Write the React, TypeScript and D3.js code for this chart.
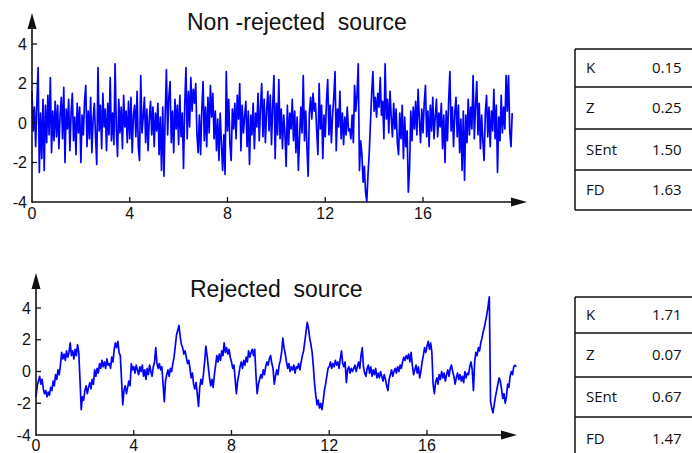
import React, { useEffect, useRef } from "react";
import * as d3 from "d3";

// sampling step (seconds) of both traces
const dt = 0.05;

// non-rejected source, one row per second
const nonRejected: number[] = [
  1.6, -0.4, 0.8, -1.2, 1.0, 2.8, -2.5, 0.5, -1.8, 1.2, -2.4, 0.9, -1.0, 1.4, -0.6, 2.3, -1.5, 0.6, -0.9, 1.1,
  -0.7, 0.9, -1.3, 0.4, 1.3, -0.8, 1.8, -2.0, 0.7, -0.3, 1.2, -1.4, 0.5, 1.5, -0.9, 0.3, -1.6, 1.0, -0.5, 0.8,
  -2.0, 0.4, -0.6, 1.1, 1.9, -1.2, 0.6, -0.8, 1.3, -1.5, 0.2, 1.0, -0.7, -2.1, 2.8, -0.4, 0.9, -1.3, 1.5, -0.2,
  0.7, -1.4, 1.0, -0.6, 2.3, -0.9, 0.5, -1.1, 3.0, -0.3, -1.7, 1.2, -0.5, 0.8, -1.3, 1.4, -0.2, 0.6, -1.0, 1.1,
  -0.8, 1.3, -1.5, 0.4, 0.9, -0.7, 1.6, -1.2, -1.9, 2.4, -0.5, 0.3, 1.3, -1.0, 0.7, -1.4, 0.2, 1.1, -0.6, 0.8,
  -1.2, 0.5, -0.4, 1.0, -1.6, 0.3, -2.4, 0.8, -2.7, 0.4, 2.7, -0.6, 1.3, 2.1, -1.0, 0.6, -1.5, 1.2, -0.3, 0.9,
  -1.1, 1.4, -0.7, 0.5, -2.3, 0.9, 2.8, -0.8, 1.6, -0.2, 2.3, 0.6, 1.7, 1.0, 2.0, -0.6, -1.5, 0.4, -1.6, 0.7,
  2.1, -0.9, 0.8, -1.2, 1.3, -0.5, 1.9, 0.3, 1.5, -0.8, 0.6, -1.4, 0.2, -1.9, 0.5, -1.0, -2.4, -0.6, -2.6, 2.6,
  -0.4, 1.2, -1.1, -1.9, 0.7, -0.3, 1.0, -0.8, 1.4, 0.2, 2.0, -1.4, 0.9, -0.5, 0.3, 1.1, -1.2, 0.6, -2.1, 0.4,
  -0.6, 1.0, -1.3, 0.5, -0.2, 1.5, -0.9, 0.8, 2.0, -0.7, 1.2, -1.0, 0.6, 1.6, -0.4, 1.4, -1.1, 0.9, 2.4, -1.8,
  1.0, -0.6, 2.2, -0.8, 0.7, -1.3, 0.4, -0.5, -2.2, 0.9, -1.1, 0.5, -0.3, 1.2, -0.9, 0.6, -1.5, 0.3, -2.4, -0.7,
  0.8, -0.5, 2.4, -0.9, 0.6, -1.2, -2.7, 0.5, 1.3, 0.2, 1.5, 0.6, 1.0, -0.4, -1.6, 2.0, -0.3, 0.9, -1.8, 0.4,
  -0.7, 1.1, 2.2, -0.6, 0.9, -1.0, 0.4, 1.3, 2.6, -1.4, 0.7, -0.2, 1.6, -0.8, 0.5, -1.1, 0.3, -0.6, 0.8, -0.4,
  -0.3, -0.8, 0.4, -1.0, 1.9, 0.6, 1.4, 3.0, -2.4, -0.9, -1.6, -3.0, -2.2, -3.5, -4.0, -2.6, -1.5, 0.0, 1.5, 2.6,
  0.6, 1.3, 0.3, 1.5, 0.8, 2.3, 0.4, 1.1, -0.8, 3.0, 0.2, 1.2, -0.5, 1.6, 0.3, -0.7, 1.0, -0.3, 0.7, -1.0,
  -1.6, 0.5, -0.8, 0.9, -1.8, 0.3, -1.2, -0.4, -3.5, -2.3, 0.6, -0.9, 0.8, -0.3, 1.1, -0.6, 1.7, 0.2, -1.0, 0.7,
  -0.5, 1.0, 1.9, -0.7, 0.6, -1.2, 0.9, -0.4, 1.3, -0.8, 0.3, 1.2, -0.7, 0.5, -0.2, 1.0, -1.3, 0.4, -2.0, 0.6,
  -0.9, 1.1, 2.6, -0.4, 0.8, -1.2, 0.5, 1.3, -0.7, 0.9, -1.5, 0.2, -2.4, 0.6, -2.9, 0.4, -1.0, 1.2, -0.6, 0.8,
  -0.3, 2.4, -0.8, 0.9, 2.1, -0.6, 1.0, -1.3, 0.4, -0.9, -1.9, 0.5, 1.4, -0.7, 0.8, -1.2, 0.6, -0.4, 1.7, -0.8,
  0.9, -2.5, 0.3, -0.9, 1.4, -0.5, 0.8, -0.3, 2.4, 0.6, 2.4, -0.4, -1.2, 0.5,
];

// rejected source, one row per second
const rejected: number[] = [
  -1.6, -0.9, -0.6, -0.3, -0.8, -0.5, -1.1, -1.4, -1.2, -1.6, -1.3, -1.5, -1.0, -1.2, -0.6, -0.9, -0.2, -0.5, 0.1, -0.2,
  0.4, 1.2, 0.8, 1.1, 0.7, 1.3, 0.9, 1.2, 1.8, 1.0, 1.3, 0.8, 1.4, 1.0, 1.7, 1.2, -0.5, -2.4, -1.6, -1.8,
  -1.2, -0.9, -1.4, -1.0, -0.7, -1.1, -0.5, -0.8, 0.1, -0.3, 0.2, -0.1, 0.5, 0.2, 0.7, 0.3, 0.6, 0.2, 0.8, 0.4,
  0.5, 0.2, 0.9, 0.6, 1.4, 1.8, 1.5, 1.9, 1.2, 1.0, -0.5, -2.1, -1.2, -0.9, -1.4, -1.0, -0.6, -0.9, 0.5, 0.1,
  0.3, -0.1, 0.4, 0.1, -0.2, 0.3, 0.0, 0.4, -0.3, 0.1, -0.5, 0.2, -0.2, 0.4, 0.0, -0.3, 0.3, 0.6, 1.5, 0.5,
  0.2, 0.5, 0.1, 0.3, -0.8, -1.9, -0.6, -0.2, 0.1, -0.3, 0.2, 0.0, 0.5, 0.9, 1.6, 2.3, 2.6, 2.9, 2.2, 1.7,
  1.5, 1.1, 1.3, 0.9, 0.5, 0.7, 0.2, -0.4, -0.1, -0.8, -1.1, -0.7, -1.4, -2.2, -1.0, -0.5, -0.8, -0.2, 0.6, 1.6,
  1.0, 0.3, -0.4, -0.9, -0.5, -1.0, -0.2, 0.4, 1.0, 0.6, 1.1, 0.7, 1.3, 1.0, 1.8, 1.2, 1.5, 1.1, 1.4, 0.9,
  0.6, 0.2, 0.4, -0.5, -1.4, -0.6, -0.2, 0.3, 0.6, 0.2, 0.7, 0.4, 0.9, 0.6, 1.3, 0.9, 1.2, 1.4, 1.0, 1.4,
  -0.2, -1.4, -0.8, -0.5, -0.2, -0.4, 0.1, -0.2, 0.3, 0.6, 0.4, 0.8, 1.0, 0.5, 0.2, -0.8, -0.3, 0.1, -0.2, 0.4,
  0.7, 1.2, 2.1, 1.5, 1.1, 0.6, 0.2, 0.5, 0.0, 0.3, 0.1, 0.4, -0.1, 0.3, 0.2, 0.5, 0.1, 0.6, 1.0, 1.3,
  1.9, 2.5, 3.1, 2.7, 2.1, 1.7, 1.2, 0.3, -0.8, -1.5, -2.1, -1.8, -2.3, -2.0, -2.4, -1.9, -1.2, -0.8, -0.3, 0.2,
  0.3, 0.6, 0.2, 0.5, 0.3, 0.7, 0.4, 0.6, 0.2, 0.8, 1.3, 0.5, 0.3, 0.6, -0.7, 0.1, 0.3, -0.1, 0.2, 0.0,
  0.2, 0.4, 0.0, 0.3, 0.6, 0.2, 1.0, 1.5, 0.3, -0.1, -0.3, 0.2, 0.4, -0.1, 0.3, -0.3, 0.1, -0.2, 0.2, -0.4,
  -0.1, -0.4, 0.0, -0.3, -0.6, -0.2, -0.5, -0.9, -1.2, -0.5, -0.2, 0.1, -0.3, 0.0, 0.2, -0.1, 0.3, 0.0, 0.4, 0.2,
  0.6, 0.9, 0.7, 1.0, 0.8, 1.1, 0.6, 1.2, 0.4, -0.2, 0.1, 0.4, -0.1, 0.3, -0.4, 0.0, 0.6, 1.0, 1.5, 1.2,
  1.6, 1.9, 1.4, 1.8, 1.2, -0.8, -1.4, -0.7, -0.4, -0.8, -0.2, -0.5, 0.0, -0.4, -0.1, -0.6, -0.2, 0.1, -0.3, 0.2,
  0.4, 0.0, -0.3, -0.8, -0.4, -0.1, -0.5, -0.2, -0.6, -0.3, -0.7, 0.0, -0.4, -0.1, -0.2, 0.3, 0.6, 0.1, -1.2, 0.6,
  1.2, 1.0, 1.5, 1.3, 1.8, 2.1, 2.5, 2.8, 3.2, 3.6, 4.1, 4.7, -1.9, -2.3, -2.6, -2.1, -1.6, -1.2, -0.8, -0.4,
  -0.6, -1.1, -1.7, -1.4, -2.0, -1.6, -0.8, -1.0, -0.3, 0.0, -0.2, 0.3, 0.4, 0.3,
];

const xTicks = [0, 4, 8, 12, 16];
const yTicks = [-4, -2, 0, 2, 4];

const statNames = ["K", "Z", "SEnt", "FD"];
const nonRejectedStats = ["0.15", "0.25", "1.50", "1.63"];
const rejectedStats = ["1.71", "0.07", "0.67", "1.47"];

const FONT = "'Liberation Sans', Arial, sans-serif";
const TABLE_FONT = "'Open Sans', 'Noto Sans', sans-serif";

type Sel = d3.Selection<SVGGElement, unknown, null, undefined>;

function drawPanel(
  g: Sel,
  data: number[],
  xs: d3.ScaleLinear<number, number>,
  ys: d3.ScaleLinear<number, number>,
  xTip: number,
  yTip: number,
  title: string,
  titleX: number,
  titleY: number,
  xLabelY: number,
  strokeW: number
) {
  const x0 = xs(0);
  const y0 = ys(-4);

  // signal
  const line = d3
    .line<number>()
    .x((d, i) => xs(i * dt))
    .y((d) => ys(d));
  g.append("path")
    .attr("d", line(data) as string)
    .attr("fill", "none")
    .attr("stroke", "#0000ff")
    .attr("stroke-width", strokeW)
    .attr("stroke-linejoin", "round");

  // axes
  g.append("line")
    .attr("x1", x0).attr("x2", xTip - 10)
    .attr("y1", y0).attr("y2", y0)
    .attr("stroke", "#111").attr("stroke-width", 1.6);
  g.append("line")
    .attr("x1", x0).attr("x2", x0)
    .attr("y1", y0 + 0.8).attr("y2", yTip + 10)
    .attr("stroke", "#111").attr("stroke-width", 1.6);
  g.append("path")
    .attr("d", `M${xTip},${y0} L${xTip - 16},${y0 - 4.5} L${xTip - 16},${y0 + 4.5} Z`)
    .attr("fill", "#111");
  g.append("path")
    .attr("d", `M${x0},${yTip} L${x0 - 4.5},${yTip + 16} L${x0 + 4.5},${yTip + 16} Z`)
    .attr("fill", "#111");

  // ticks (inward)
  g.selectAll(".xt")
    .data(xTicks.filter((t) => t > 0))
    .enter()
    .append("line")
    .attr("x1", (d) => xs(d)).attr("x2", (d) => xs(d))
    .attr("y1", y0).attr("y2", y0 - 5)
    .attr("stroke", "#111").attr("stroke-width", 1.3);
  g.selectAll(".yt")
    .data(yTicks.filter((t) => t > -4))
    .enter()
    .append("line")
    .attr("x1", x0).attr("x2", x0 + 5)
    .attr("y1", (d) => ys(d)).attr("y2", (d) => ys(d))
    .attr("stroke", "#111").attr("stroke-width", 1.3);

  // tick labels
  g.selectAll(".xl")
    .data(xTicks)
    .enter()
    .append("text")
    .attr("x", (d) => xs(d))
    .attr("y", xLabelY)
    .attr("text-anchor", "middle")
    .attr("font-family", FONT)
    .attr("font-size", 16)
    .attr("fill", "#111")
    .text((d) => String(d));
  g.selectAll(".yl")
    .data(yTicks)
    .enter()
    .append("text")
    .attr("x", x0 - 5)
    .attr("y", (d) => ys(d) + 5.5)
    .attr("text-anchor", "end")
    .attr("font-family", FONT)
    .attr("font-size", 16)
    .attr("fill", "#111")
    .text((d) => String(d));

  g.append("text")
    .attr("x", titleX)
    .attr("y", titleY)
    .attr("font-family", FONT)
    .attr("font-size", 23)
    .attr("fill", "#111")
    .style("white-space", "pre")
    .text(title);
}

function drawTable(g: Sel, left: number, rows: number[], values: string[]) {
  const right = 700;
  rows.forEach((y) => {
    g.append("line")
      .attr("x1", left).attr("x2", right)
      .attr("y1", y).attr("y2", y)
      .attr("stroke", "#111").attr("stroke-width", 1.5);
  });
  g.append("line")
    .attr("x1", left).attr("x2", left)
    .attr("y1", rows[0]).attr("y2", rows[rows.length - 1])
    .attr("stroke", "#111").attr("stroke-width", 1.5);
  statNames.forEach((name, i) => {
    const cy = (rows[i] + rows[i + 1]) / 2 + 5;
    g.append("text")
      .attr("x", left + 11).attr("y", cy)
      .attr("font-family", TABLE_FONT).attr("font-size", 15)
      .attr("fill", "#111").text(name);
    g.append("text")
      .attr("x", left + 77).attr("y", cy)
      .attr("font-family", TABLE_FONT).attr("font-size", 15)
      .attr("fill", "#111").text(values[i]);
  });
}

export default function App() {
  const ref = useRef<SVGSVGElement | null>(null);

  useEffect(() => {
    const svg = d3.select(ref.current);
    svg.selectAll("*").remove();
    const g = svg.append("g") as unknown as Sel;

    const xTop = d3.scaleLinear().domain([0, 16]).range([32, 423]);
    const yTop = d3.scaleLinear().domain([-4, 4]).range([202, 44]);
    drawPanel(g, nonRejected, xTop, yTop, 527, 13,
      "Non -rejected  source", 187, 30, 219, 1.7);

    const xBot = d3.scaleLinear().domain([0, 16]).range([36, 427]);
    const yBot = d3.scaleLinear().domain([-4, 4]).range([435, 308]);
    drawPanel(g, rejected, xBot, yBot, 517, 273,
      "Rejected  source", 190, 297, 451, 1.7);

    drawTable(g, 575, [49, 87, 129, 170, 210], nonRejectedStats);
    drawTable(g, 575, [297, 333, 377, 417, 460], rejectedStats);
  }, []);

  return (
    <svg
      ref={ref}
      width={692}
      height={453}
      style={{ position: "absolute", left: 0, top: 0, background: "#fff" }}
    />
  );
}
